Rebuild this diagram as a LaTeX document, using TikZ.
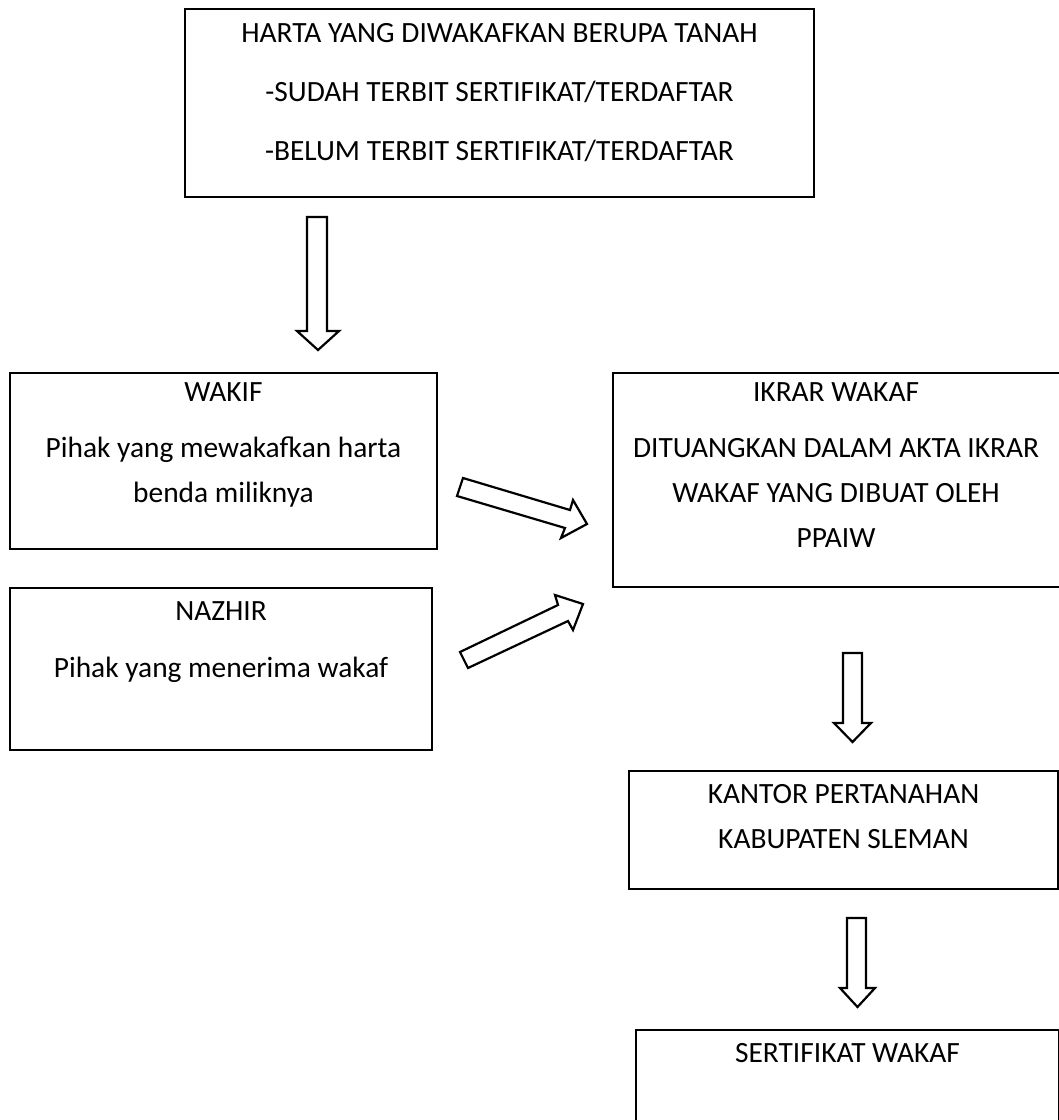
\documentclass[tikz,border=0pt]{standalone}
\usepackage{fontspec}
\setmainfont{Carlito}
\begin{document}
\begin{tikzpicture}[x=1pt,y=-1pt,
  box/.style={draw=black,line width=2.4pt,fill=white},
  txt/.style={font=\fontsize{29.4}{36}\selectfont,inner sep=0pt,anchor=base},
  blockarrow/.style={draw=black,line width=2.2pt,fill=white,line join=miter}]
\useasboundingbox (0,0) rectangle (1059,1120);
% boxes
\draw[box] (185,9) rectangle (814,197);
\draw[box] (10,373) rectangle (437,549);
\draw[box] (10,588) rectangle (432,750);
\draw[box] (613,373) rectangle (1064,587);
\draw[box] (629,771) rectangle (1058,889);
\draw[box] (636,1030) rectangle (1059,1140);
% texts
\node[txt] (t1) at (499.5,42) {HARTA YANG DIWAKAFKAN BERUPA TANAH};
\node[txt] (t2) at (499.5,101) {-SUDAH TERBIT SERTIFIKAT/TERDAFTAR};
\node[txt] (t3) at (499.5,160) {-BELUM TERBIT SERTIFIKAT/TERDAFTAR};
\node[txt] (w1) at (223.5,401) {WAKIF};
\node[txt] (w2) at (223.5,457) {Pihak yang mewakafkan harta};
\node[txt] (w3) at (223.5,502) {benda miliknya};
\node[txt] (n1) at (221,620) {NAZHIR};
\node[txt] (n2) at (221,677) {Pihak yang menerima wakaf};
\node[txt] (i1) at (836,401) {IKRAR WAKAF};
\node[txt] (i2) at (836,457) {DITUANGKAN DALAM AKTA IKRAR};
\node[txt] (i3) at (836,502) {WAKAF YANG DIBUAT OLEH};
\node[txt] (i4) at (836,547) {PPAIW};
\node[txt] (k1) at (843.5,803) {KANTOR PERTANAHAN};
\node[txt] (k2) at (843.5,848) {KABUPATEN SLEMAN};
\node[txt] (s1) at (847.5,1062) {SERTIFIKAT WAKAF};
% block arrows
\draw[blockarrow] (307,217) -- (327,217) -- (327,331) -- (339,331) -- (318,350) -- (297,331) -- (307,331) -- cycle;
\draw[blockarrow] (843,653) -- (862,653) -- (862,723) -- (871,723) -- (852.5,742) -- (834,723) -- (843,723) -- cycle;
\draw[blockarrow] (847,918) -- (866,918) -- (866,988) -- (875,988) -- (857.5,1007) -- (840,988) -- (847,988) -- cycle;
\draw[blockarrow] (463,478) -- (570,510) -- (573,500) -- (587,524) -- (561,538) -- (565,528) -- (457,496) -- cycle;
\draw[blockarrow] (460,652) -- (558,605) -- (555,595) -- (583,604) -- (573,630) -- (568,621) -- (468,668) -- cycle;
\end{tikzpicture}
\end{document}
